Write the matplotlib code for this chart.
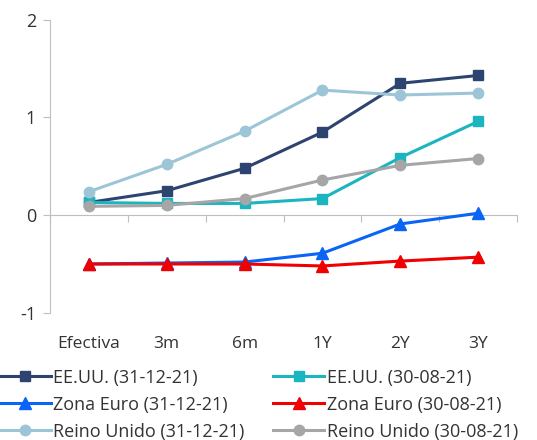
import matplotlib
matplotlib.use("Agg")
import matplotlib.pyplot as plt

plt.rcParams['font.family'] = ['Open Sans', 'DejaVu Sans']

plazos = ['Efectiva', '3m', '6m', '1Y', '2Y', '3Y']

eeuu_dic = [0.13, 0.25, 0.48, 0.85, 1.35, 1.43]
eeuu_ago = [0.13, 0.12, 0.12, 0.17, 0.59, 0.96]
euro_dic = [-0.50, -0.49, -0.48, -0.39, -0.09, 0.02]
euro_ago = [-0.50, -0.50, -0.50, -0.52, -0.47, -0.43]
uk_dic = [0.24, 0.52, 0.86, 1.28, 1.23, 1.25]
uk_ago = [0.09, 0.10, 0.17, 0.36, 0.51, 0.58]

series = [
    ('EE.UU. (31-12-21)', eeuu_dic, '#2e4470', 's', 7.5),
    ('EE.UU. (30-08-21)', eeuu_ago, '#1bb5bf', 's', 7.5),
    ('Zona Euro (31-12-21)', euro_dic, '#0a64f5', '^', 8),
    ('Zona Euro (30-08-21)', euro_ago, '#f00000', '^', 8),
    ('Reino Unido (31-12-21)', uk_dic, '#9cc5d7', 'o', 7.5),
    ('Reino Unido (30-08-21)', uk_ago, '#a6a6a6', 'o', 7.5),
]

fig = plt.figure(figsize=(5.37, 4.40), dpi=100)
ax = fig.add_axes([0.093, 0.289, 0.870, 0.666])

x = list(range(len(plazos)))
lineas = []
for nombre, vals, color, mk, ms in series:
    l, = ax.plot(x, vals, color=color, marker=mk, markersize=ms, linewidth=2.2,
                 label=nombre)
    lineas.append(l)

ax.set_xlim(-0.5, len(plazos) - 0.5)
ax.set_ylim(-1, 2)
ax.set_yticks([-1, 0, 1, 2])
ax.set_yticklabels(['-1', '0', '1', '2'])

gris = '#bfbfbf'
for s in ['top', 'right', 'bottom']:
    ax.spines[s].set_visible(False)
ax.spines['left'].set_color(gris)
ax.tick_params(axis='y', colors=gris, labelcolor='#333333', labelsize=13,
               length=5, pad=5)

ax.set_xticks(x)
ax.set_xticklabels(plazos)
ax.tick_params(axis='x', length=0, labelsize=12.5, labelcolor='#333333', pad=17)

# eje horizontal en y=0 con marcas entre categorias
eje0 = ax.secondary_xaxis(1 / 3)
eje0.spines['bottom'].set_color(gris)
eje0.set_xticks([i - 0.5 for i in range(len(plazos) + 1)])
eje0.set_xticklabels([])
eje0.tick_params(axis='x', colors=gris, length=5, direction='out')

# leyenda en dos columnas, ordenada por filas
orden = [0, 2, 4, 1, 3, 5]
ax.legend([lineas[i] for i in orden], [series[i][0] for i in orden],
          loc='upper left', bbox_to_anchor=(-0.107, -0.19), ncol=2,
          frameon=False, fontsize=13, handlelength=2.8, handletextpad=0.15,
          columnspacing=1.6, labelspacing=0.5, borderaxespad=0, borderpad=0,
          labelcolor='#333333')

fig.savefig('out.png', dpi=100)
